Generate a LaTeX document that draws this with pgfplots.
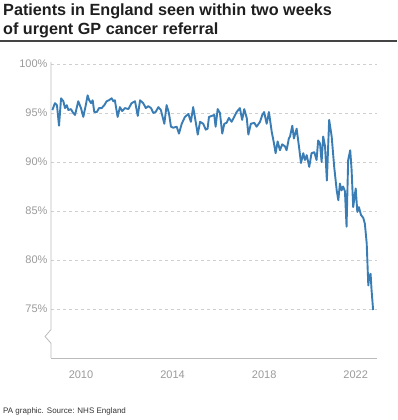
\documentclass[border=0pt]{standalone}
\usepackage{pgfplots}
\pgfplotsset{compat=1.18}
\usepackage{fontspec}
\setmainfont{Liberation Sans}
\definecolor{lineblue}{HTML}{3A7DB5}
\definecolor{ticklab}{HTML}{9A9A9A}
\definecolor{axgray}{HTML}{BBBBBB}
\definecolor{gridgray}{HTML}{CFCFCF}
\definecolor{rulegray}{HTML}{444444}
\definecolor{foot}{HTML}{333333}
\begin{document}
\begin{tikzpicture}
\path[use as bounding box] (0,0) rectangle (397pt,420pt);
\node[anchor=base west, inner sep=0pt, font=\fontsize{16.2}{19}\selectfont\bfseries, text=black!88] at (3pt,404pt) {Patients in England seen within two weeks};
\node[anchor=base west, inner sep=0pt, font=\fontsize{16.2}{19}\selectfont\bfseries, text=black!88] at (3pt,385pt) {of urgent GP cancer referral};
\draw[rulegray, line width=1.2pt] (0,379pt) -- (397pt,379pt);
\node[anchor=base west, inner sep=0pt, font=\fontsize{8}{9}\selectfont, text=foot] at (3pt,6pt) {PA graphic. Source: NHS England};
\begin{axis}[
  at={(51pt,62pt)}, anchor=south west,
  width=326pt, height=294pt, scale only axis,
  xmin=2008.69, xmax=2022.93,
  ymin=70, ymax=100,
  clip=false,
  axis x line=bottom, axis y line=left,
  x axis line style={-, draw=axgray, line width=0.8pt},
  y axis line style={draw=none},
  xtick={2010,2014,2018,2022},
  ytick={75,80,85,90,95,100},
  major tick length=0pt,
  ymajorgrids,
  major grid style={gridgray, dash pattern=on 3pt off 3pt, line width=0.6pt},
  /pgf/number format/assume math mode=true,
  /pgf/number format/1000 sep={},
  yticklabel={\pgfmathprintnumber{\tick}\%},
  tick label style={font=\fontsize{11}{13}\selectfont, text=ticklab},
  xticklabel style={yshift=-9pt},
]
\draw[axgray, line width=0.8pt] (axis cs:2008.69,70) -- (axis cs:2008.69,71.5) -- (axis cs:2008.43,72.2) -- (axis cs:2008.69,72.9) -- (axis cs:2008.69,100.2);
\addplot[lineblue, line width=1.9pt, line join=round] coordinates {
(2008.75,95.3) (2008.86,96.0) (2008.95,95.8) (2009.04,93.7) (2009.13,96.5) (2009.23,96.2) (2009.30,95.5) (2009.38,95.8) (2009.45,95.3) (2009.56,95.4) (2009.66,95.0) (2009.74,94.8) (2009.81,95.5) (2009.88,96.2) (2010.00,95.5) (2010.10,94.6) (2010.21,95.8) (2010.29,96.8) (2010.36,96.3) (2010.44,96.0) (2010.51,96.3) (2010.58,95.1) (2010.69,95.1) (2010.79,95.5) (2010.90,95.5) (2011.02,95.8) (2011.12,96.2) (2011.22,96.3) (2011.34,96.5) (2011.41,96.2) (2011.48,96.3) (2011.60,94.6) (2011.70,95.6) (2011.80,95.2) (2011.92,95.5)
(2012.07,95.4) (2012.21,96.0) (2012.36,96.2) (2012.48,94.7) (2012.58,96.3) (2012.72,96.0) (2012.83,95.5) (2012.94,95.7) (2013.06,95.5) (2013.16,95.0) (2013.26,95.1) (2013.38,95.6) (2013.49,95.3) (2013.64,93.9) (2013.74,95.8) (2013.84,95.0) (2013.93,93.6) (2014.03,93.5) (2014.18,93.6) (2014.28,92.9) (2014.40,93.9) (2014.54,94.6) (2014.69,94.9) (2014.80,94.1) (2014.90,95.6) (2015.01,94.1) (2015.10,92.8) (2015.20,94.1) (2015.34,93.9) (2015.45,93.3)
(2015.53,93.4) (2015.59,94.6) (2015.71,94.7) (2015.82,94.8) (2015.88,93.6) (2015.97,95.4) (2016.07,95.0) (2016.17,92.9) (2016.26,93.9) (2016.36,94.0) (2016.46,94.5) (2016.58,94.1) (2016.69,94.6) (2016.80,95.1) (2016.94,95.5) (2017.04,94.3) (2017.13,95.4) (2017.24,94.5) (2017.31,92.8) (2017.42,93.9) (2017.57,94.0) (2017.67,93.6) (2017.82,94.1) (2017.92,94.8) (2018.00,95.1) (2018.11,93.9) (2018.21,95.1) (2018.33,93.1) (2018.43,91.9) (2018.50,90.9) (2018.59,92.1) (2018.69,91.2) (2018.79,91.8) (2018.91,91.6) (2018.98,91.2) (2019.08,92.4)
(2019.13,92.6) (2019.23,93.7) (2019.30,92.4) (2019.42,93.4) (2019.52,91.6) (2019.61,89.9) (2019.71,90.9) (2019.78,90.2) (2019.86,90.7) (2019.97,89.5) (2020.07,90.9) (2020.19,91.0) (2020.29,90.2) (2020.36,92.2) (2020.44,91.9) (2020.51,90.0) (2020.58,92.6) (2020.66,91.6) (2020.74,88.1) (2020.84,94.3) (2020.95,92.6) (2021.06,89.5)
(2021.17,87.1) (2021.24,86.1) (2021.31,87.8) (2021.38,87.1) (2021.45,87.5) (2021.53,87.0) (2021.60,83.4) (2021.67,90.2) (2021.76,91.2) (2021.82,89.2) (2021.89,85.4) (2022.00,87.3) (2022.07,84.9) (2022.14,85.4) (2022.23,84.6) (2022.33,84.3) (2022.40,83.7) (2022.48,81.7) (2022.55,77.4) (2022.59,78.3) (2022.65,78.6) (2022.69,77.0) (2022.76,74.9)
};
\end{axis}
\end{tikzpicture}
\end{document}
